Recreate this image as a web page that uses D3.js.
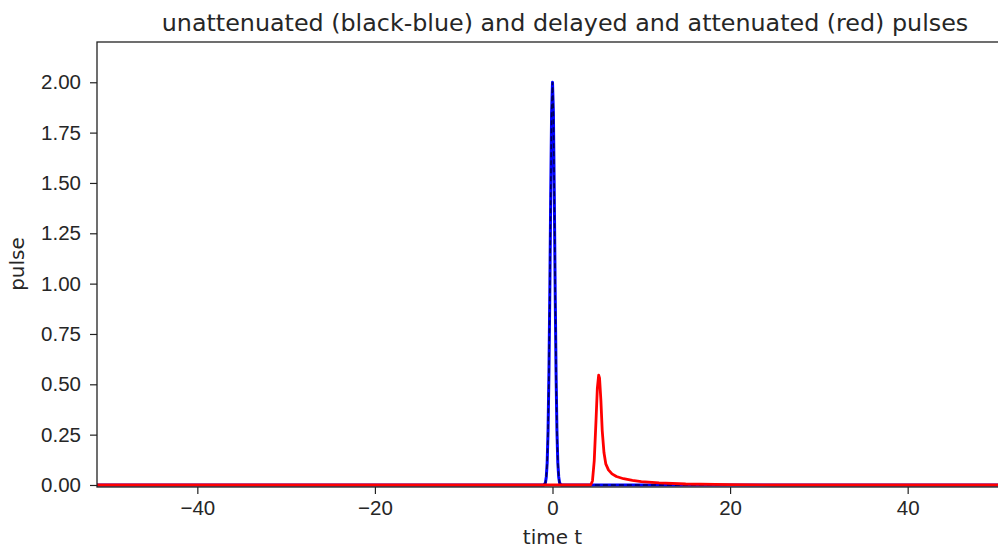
<!DOCTYPE html>
<html>
<head>
<meta charset="utf-8">
<script src="https://cdn.jsdelivr.net/npm/d3@7"></script>
<style>
  html, body { margin: 0; padding: 0; background: #fff; }
  svg { display: block; font-family: "DejaVu Sans", sans-serif; }
  .tick text { fill: #262626; }
</style>
</head>
<body>
<svg id="chart" width="998" height="550"></svg>
<script>
// Unattenuated pulse (sampled around t = 0)
const tBlue = [-55, -1.0, -0.8, -0.7, -0.6, -0.5, -0.4, -0.3, -0.2, -0.1, 0,
               0.1, 0.2, 0.3, 0.4, 0.5, 0.6, 0.7, 0.8, 1.0, 55];
const pulseBlue = [0, 0, 0.01, 0.04, 0.11, 0.27, 0.56, 0.97, 1.45, 1.85, 2.0,
                   1.85, 1.45, 0.97, 0.56, 0.27, 0.11, 0.04, 0.01, 0, 0];

// Delayed and attenuated pulse
const tRed = [-55, 4.3, 4.5, 4.7, 4.9, 5.05, 5.2, 5.3, 5.45, 5.6, 5.8, 6.0,
              6.3, 6.7, 7.2, 8.0, 9.0, 10, 12, 15, 20, 25, 55];
const pulseRed = [0, 0, 0.02, 0.12, 0.32, 0.48, 0.545, 0.53, 0.42, 0.27, 0.16, 0.105,
                  0.075, 0.055, 0.042, 0.031, 0.023, 0.017, 0.01, 0.005, 0.002, 0, 0];

const xTicks = [-40, -20, 0, 20, 40];
const yTicks = [0, 0.25, 0.5, 0.75, 1.0, 1.25, 1.5, 1.75, 2.0];

const svg = d3.select("#chart");
const padL = 97, padR = 1008, padT = 42, padB = 487;

const x = d3.scaleLinear().domain([-51.3, 51.3]).range([padL, padR]);
const y = d3.scaleLinear().domain([-0.01, 2.2]).range([padB, padT]);

svg.append("defs").append("clipPath").attr("id", "plotClip")
  .append("rect").attr("x", padL).attr("y", padT)
  .attr("width", padR - padL).attr("height", padB - padT);

const plot = svg.append("g").attr("clip-path", "url(#plotClip)");

const line = d3.line().x(d => x(d[0])).y(d => y(d[1]));
const blueData = tBlue.map((t, i) => [t, pulseBlue[i]]);
const redData = tRed.map((t, i) => [t, pulseRed[i]]);

plot.append("path").datum(blueData).attr("d", line)
  .attr("fill", "none").attr("stroke", "#0000ff").attr("stroke-width", 3)
  .attr("stroke-linejoin", "round");
plot.append("path").datum(blueData).attr("d", line)
  .attr("fill", "none").attr("stroke", "#000").attr("stroke-opacity", 0.65)
  .attr("stroke-width", 1.6).attr("stroke-dasharray", "5,3");
plot.append("path").datum(redData).attr("d", line)
  .attr("fill", "none").attr("stroke", "#ff0000").attr("stroke-width", 2.8)
  .attr("stroke-linejoin", "round");

// Axes
const xAxis = d3.axisBottom(x).tickValues(xTicks).tickFormat(d3.format("d"))
  .tickSize(7).tickPadding(6);
const gx = svg.append("g").attr("transform", `translate(0,${padB})`).call(xAxis);
gx.select(".domain").remove();
gx.selectAll(".tick line").attr("stroke", "#222").attr("stroke-width", 1.2);
gx.selectAll(".tick text").style("font-size", "20.5px")
  .text(d => d < 0 ? "\u2212" + Math.abs(d) : d);

const yAxis = d3.axisLeft(y).tickValues(yTicks).tickFormat(d3.format(".2f"))
  .tickSize(7).tickPadding(9);
const gy = svg.append("g").attr("transform", `translate(${padL},0)`).call(yAxis);
gy.select(".domain").remove();
gy.selectAll(".tick line").attr("stroke", "#222").attr("stroke-width", 1.2);
gy.selectAll(".tick text").style("font-size", "20.5px");

// Spines
svg.append("rect").attr("x", padL).attr("y", padT)
  .attr("width", padR - padL).attr("height", padB - padT)
  .attr("fill", "none").attr("stroke", "#222").attr("stroke-width", 1.3);

// Labels
svg.append("text").attr("x", 565).attr("y", 31).attr("text-anchor", "middle")
  .style("font-size", "23.8px").attr("fill", "#262626")
  .text("unattenuated (black-blue) and delayed and attenuated (red) pulses");
svg.append("text").attr("x", (padL + padR) / 2).attr("y", 544).attr("text-anchor", "middle")
  .style("font-size", "20px").attr("fill", "#262626").text("time t");
svg.append("text").attr("transform", "translate(24,264) rotate(-90)")
  .attr("text-anchor", "middle").style("font-size", "20px").attr("fill", "#262626")
  .text("pulse");
</script>
</body>
</html>
